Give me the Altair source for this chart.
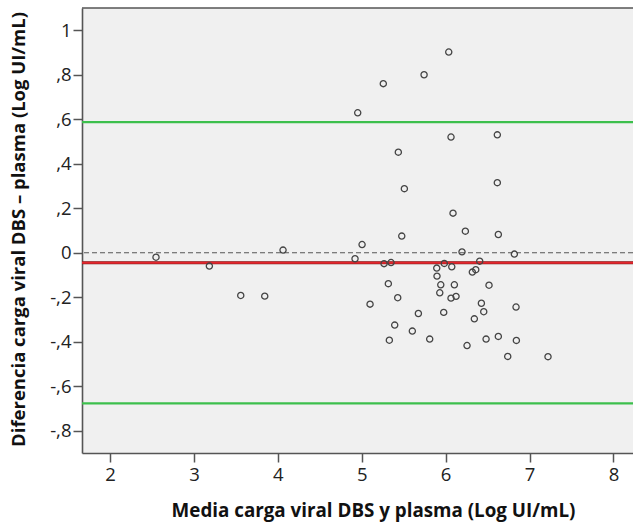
import altair as alt
import pandas as pd

# Mean of DBS and plasma viral load (Log UI/mL)
media = [6.037, 5.743, 5.257, 4.952, 6.064, 6.616, 5.436, 5.508, 6.616, 6.088,
         6.235, 5.477, 6.628, 5.004, 6.195, 6.819, 4.920, 5.266, 5.349, 5.984,
         6.406, 5.894, 6.073, 6.359, 6.318, 5.897, 5.317, 5.942, 6.104, 6.517,
         5.930, 5.429, 6.064, 6.124, 5.099, 6.426, 6.839, 6.454, 5.675, 5.977,
         5.393, 6.342, 5.603, 5.329, 5.810, 6.628, 6.482, 6.843, 6.255, 6.740,
         7.220, 2.548, 3.184, 3.558, 3.844, 4.062]
# Difference DBS - plasma (Log UI/mL)
diferencia = [0.902, 0.800, 0.760, 0.629, 0.520, 0.530, 0.452, 0.288, 0.315, 0.178,
              0.097, 0.075, 0.082, 0.037, 0.004, -0.006, -0.027, -0.049, -0.044, -0.048,
              -0.038, -0.069, -0.063, -0.076, -0.087, -0.105, -0.139, -0.144, -0.144, -0.146,
              -0.180, -0.202, -0.204, -0.196, -0.231, -0.227, -0.244, -0.265, -0.273, -0.268,
              -0.325, -0.297, -0.352, -0.393, -0.388, -0.376, -0.388, -0.394, -0.417, -0.466,
              -0.467, -0.020, -0.060, -0.192, -0.195, 0.012]

mean_diff = [-0.045]
limits = [0.587, -0.677]
zero_line = [0.0]

x_ticks = [2, 3, 4, 5, 6, 7, 8]
y_ticks = [-0.8, -0.6, -0.4, -0.2, 0.0, 0.2, 0.4, 0.6, 0.8, 1.0]

df = pd.DataFrame({"media": media, "diferencia": diferencia})
df_mean = pd.DataFrame({"y": mean_diff})
df_lim = pd.DataFrame({"y": limits})
df_zero = pd.DataFrame({"y": zero_line})

W, H = 551, 445
FONT = "Open Sans"
AXIS_COLOR = "#555555"

xscale = alt.Scale(domain=[1.666, 8.233], nice=False, zero=False)
yscale = alt.Scale(domain=[-0.9, 1.1], nice=False, zero=False)

ylabel_expr = ("datum.value == 0 ? '0' : (abs(datum.value - 1) < 0.001 ? '1' : "
               "((datum.value < 0 ? '-' : '') + ',' + format(round(abs(datum.value) * 10), 'd')))")

points = alt.Chart(df).mark_point(
    shape="circle", filled=False, size=38, stroke="#444444", strokeWidth=1.3, opacity=1
).encode(
    x=alt.X("media:Q", scale=xscale,
            axis=alt.Axis(values=x_ticks, title="Media carga viral DBS y plasma (Log UI/mL)",
                          grid=False, domainColor=AXIS_COLOR, domainWidth=1.6,
                          tickColor=AXIS_COLOR, tickWidth=1.5, tickSize=9,
                          labelFont=FONT, labelFontSize=18.5, labelColor="#222222", labelPadding=3,
                          titleFont=FONT, titleFontSize=18.8, titleFontWeight="bold",
                          titleColor="#111111", titleX=291, titleY=63,
                          titleBaseline="alphabetic", titleAlign="center")),
    y=alt.Y("diferencia:Q", scale=yscale,
            axis=alt.Axis(values=y_ticks, labelExpr=ylabel_expr,
                          title="Diferencia carga viral DBS \u2013 plasma (Log UI/mL)",
                          grid=False, domainColor=AXIS_COLOR, domainWidth=1.6,
                          tickColor=AXIS_COLOR, tickWidth=1.5, tickSize=9,
                          labelFont=FONT, labelFontSize=18.5, labelColor="#222222", labelPadding=2,
                          titleFont=FONT, titleFontSize=18.5, titleFontWeight="bold",
                          titleColor="#111111", titleX=-58, titleY=221, titleAngle=-90,
                          titleBaseline="alphabetic", titleAlign="center")),
)

zero = alt.Chart(df_zero).mark_rule(color="#555555", strokeWidth=1.2, strokeDash=[5, 3]).encode(
    y=alt.Y("y:Q", scale=yscale))
lim = alt.Chart(df_lim).mark_rule(color="#3cbf4c", strokeWidth=2.2).encode(
    y=alt.Y("y:Q", scale=yscale))
mean_dark = alt.Chart(df_mean).mark_rule(color="#7a1a1a", strokeWidth=2.8).encode(
    y=alt.Y("y:Q", scale=yscale))
mean = alt.Chart(df_mean).mark_rule(color="#e3262d", strokeWidth=1.8).encode(
    y=alt.Y("y:Q", scale=yscale))
top_border = alt.Chart(df_zero).mark_rule(color=AXIS_COLOR, strokeWidth=1.6).encode(
    x=alt.value(0), x2=alt.value(W), y=alt.value(0))

chart = alt.layer(zero, lim, mean_dark, mean, points, top_border).properties(
    width=W, height=H,
    autosize=alt.AutoSizeParams(type="none"),
    padding={"left": 82, "top": 8, "right": 0, "bottom": 69},
    background="white",
).configure_view(fill="#f0f0f0", stroke=None)

chart.save("out.html", embed_options={"renderer": "svg", "actions": False})
